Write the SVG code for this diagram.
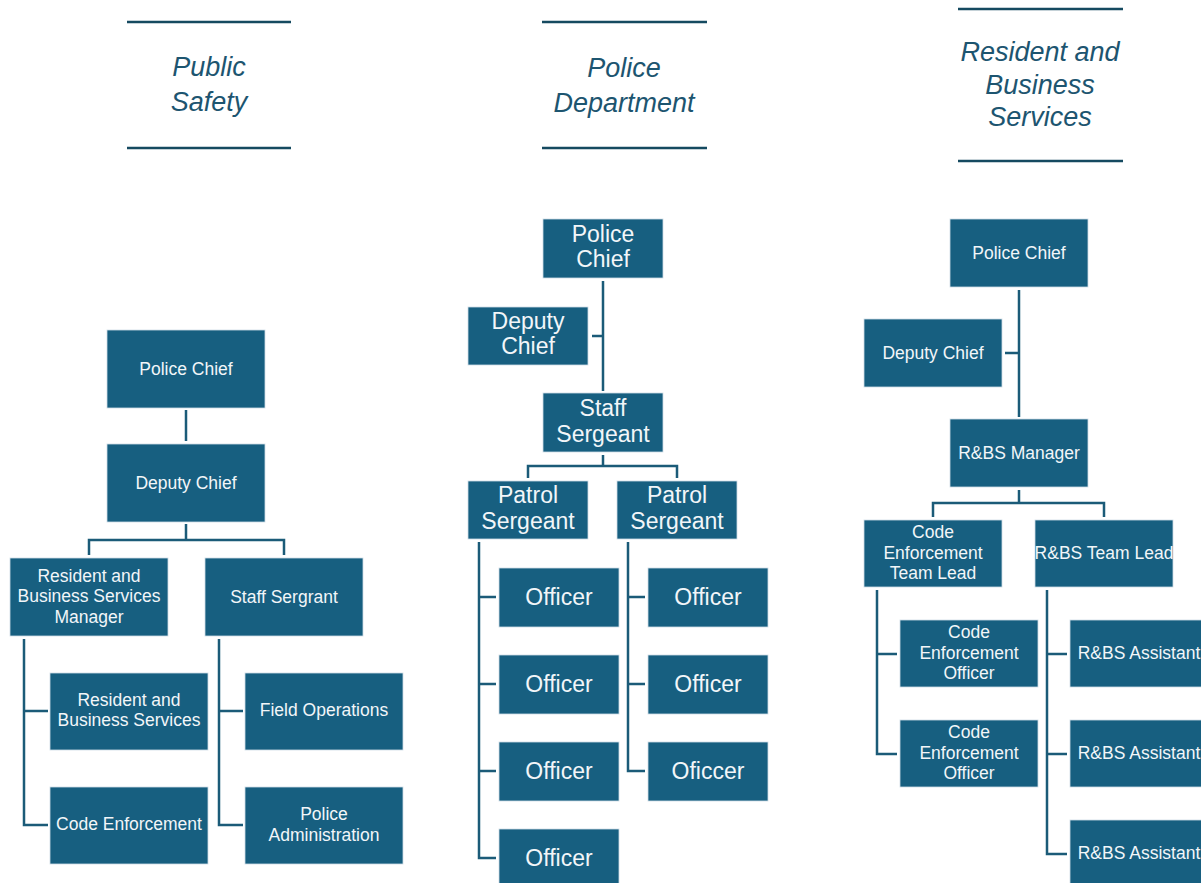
<svg xmlns="http://www.w3.org/2000/svg" width="1201" height="883" viewBox="0 0 1201 883">
<style>
.box{fill:#175f80;stroke:#cfdde6;stroke-width:0.8}
.t{font-family:"Liberation Sans",Arial,sans-serif;fill:#f2f6f9;text-anchor:middle}
.s{font-size:17.5px}
.b{font-size:23px}
.h{font-family:"Liberation Sans",Arial,sans-serif;font-style:italic;font-size:27px;fill:#1d5570;text-anchor:middle}
.hl{stroke:#154a60;stroke-width:2.5;fill:none}
.c{stroke:#1b5b78;stroke-width:2.5;fill:none}
</style>
<rect width="1201" height="883" fill="#ffffff"/>
<g id="header-public-safety">
<line class="hl" x1="127" y1="22" x2="291" y2="22"/>
<line class="hl" x1="127" y1="148" x2="291" y2="148"/>
<text class="h" x="209" y="76">Public</text>
<text class="h" x="209" y="111">Safety</text>
</g>
<g id="header-police-department">
<line class="hl" x1="542" y1="22" x2="707" y2="22"/>
<line class="hl" x1="542" y1="148" x2="707" y2="148"/>
<text class="h" x="624" y="77">Police</text>
<text class="h" x="624" y="112">Department</text>
</g>
<g id="header-rbs">
<line class="hl" x1="958" y1="9" x2="1123" y2="9"/>
<line class="hl" x1="958" y1="161" x2="1123" y2="161"/>
<text class="h" x="1040" y="61">Resident and</text>
<text class="h" x="1040" y="94">Business</text>
<text class="h" x="1040" y="126">Services</text>
</g>
<g id="connectors">
<path class="c" d="M186 410V441"/>
<path class="c" d="M186 524V540M89 555V540H284V555"/>
<path class="c" d="M24 639V825H48M24 711H48"/>
<path class="c" d="M219 639V825H243M219 711H243"/>
<path class="c" d="M603 281V391M592 336H603"/>
<path class="c" d="M603 455V466M528 478V466H677V478"/>
<path class="c" d="M479 542V858H496M479 597H496M479 684H496M479 771H496"/>
<path class="c" d="M628 542V771H645M628 597H645M628 684H645"/>
<path class="c" d="M1019 290V417M1005 353H1019"/>
<path class="c" d="M1019 490V503M933 517V503H1104V517"/>
<path class="c" d="M877 590V754H897M877 654H897"/>
<path class="c" d="M1047 590V854H1067M1047 654H1067M1047 754H1067"/>
</g>
<g id="ps-police-chief"><rect class="box" x="107" y="330" width="158" height="78"/><text class="t s" x="186" y="375">Police Chief</text></g>
<g id="ps-deputy-chief"><rect class="box" x="107" y="444" width="158" height="78"/><text class="t s" x="186" y="489">Deputy Chief</text></g>
<g id="ps-rbs-manager"><rect class="box" x="10" y="558" width="158" height="78"/><text class="t s" x="89" y="582">Resident and</text><text class="t s" x="89" y="602">Business Services</text><text class="t s" x="89" y="623">Manager</text></g>
<g id="ps-staff-sergrant"><rect class="box" x="205" y="558" width="158" height="78"/><text class="t s" x="284" y="603">Staff Sergrant</text></g>
<g id="ps-rbs"><rect class="box" x="50" y="673" width="158" height="77"/><text class="t s" x="129" y="706">Resident and</text><text class="t s" x="129" y="726">Business Services</text></g>
<g id="ps-code-enforcement"><rect class="box" x="50" y="787" width="158" height="77"/><text class="t s" x="129" y="830">Code Enforcement</text></g>
<g id="ps-field-operations"><rect class="box" x="245" y="673" width="158" height="77"/><text class="t s" x="324" y="716">Field Operations</text></g>
<g id="ps-police-admin"><rect class="box" x="245" y="787" width="158" height="77"/><text class="t s" x="324" y="820">Police</text><text class="t s" x="324" y="841">Administration</text></g>

<g id="pd-police-chief"><rect class="box" x="543" y="219" width="120" height="59"/><text class="t b" x="603" y="242">Police</text><text class="t b" x="603" y="267">Chief</text></g>
<g id="pd-deputy-chief"><rect class="box" x="468" y="307" width="120" height="58"/><text class="t b" x="528" y="329">Deputy</text><text class="t b" x="528" y="354">Chief</text></g>
<g id="pd-staff-sergeant"><rect class="box" x="543" y="393" width="120" height="59"/><text class="t b" x="603" y="416">Staff</text><text class="t b" x="603" y="442">Sergeant</text></g>
<g id="pd-patrol-1"><rect class="box" x="468" y="481" width="120" height="58"/><text class="t b" x="528" y="503">Patrol</text><text class="t b" x="528" y="529">Sergeant</text></g>
<g id="pd-patrol-2"><rect class="box" x="617" y="481" width="120" height="58"/><text class="t b" x="677" y="503">Patrol</text><text class="t b" x="677" y="529">Sergeant</text></g>
<g id="pd-officer-1"><rect class="box" x="499" y="568" width="120" height="59"/><text class="t b" x="559" y="605">Officer</text></g>
<g id="pd-officer-2"><rect class="box" x="499" y="655" width="120" height="59"/><text class="t b" x="559" y="692">Officer</text></g>
<g id="pd-officer-3"><rect class="box" x="499" y="742" width="120" height="59"/><text class="t b" x="559" y="779">Officer</text></g>
<g id="pd-officer-4"><rect class="box" x="499" y="829" width="120" height="59"/><text class="t b" x="559" y="866">Officer</text></g>
<g id="pd-officer-5"><rect class="box" x="648" y="568" width="120" height="59"/><text class="t b" x="708" y="605">Officer</text></g>
<g id="pd-officer-6"><rect class="box" x="648" y="655" width="120" height="59"/><text class="t b" x="708" y="692">Officer</text></g>
<g id="pd-officer-7"><rect class="box" x="648" y="742" width="120" height="59"/><text class="t b" x="708" y="779">Oficcer</text></g>

<g id="rbs-police-chief"><rect class="box" x="950" y="219" width="138" height="68"/><text class="t s" x="1019" y="259">Police Chief</text></g>
<g id="rbs-deputy-chief"><rect class="box" x="864" y="319" width="138" height="68"/><text class="t s" x="933" y="359">Deputy Chief</text></g>
<g id="rbs-manager"><rect class="box" x="950" y="419" width="138" height="68"/><text class="t s" x="1019" y="459">R&amp;BS Manager</text></g>
<g id="rbs-ce-team-lead"><rect class="box" x="864" y="520" width="138" height="67"/><text class="t s" x="933" y="538">Code</text><text class="t s" x="933" y="559">Enforcement</text><text class="t s" x="933" y="579">Team Lead</text></g>
<g id="rbs-team-lead"><rect class="box" x="1035" y="520" width="138" height="67"/><text class="t s" x="1104" y="559">R&amp;BS Team Lead</text></g>
<g id="rbs-ce-officer-1"><rect class="box" x="900" y="620" width="138" height="67"/><text class="t s" x="969" y="638">Code</text><text class="t s" x="969" y="659">Enforcement</text><text class="t s" x="969" y="679">Officer</text></g>
<g id="rbs-ce-officer-2"><rect class="box" x="900" y="720" width="138" height="67"/><text class="t s" x="969" y="738">Code</text><text class="t s" x="969" y="759">Enforcement</text><text class="t s" x="969" y="779">Officer</text></g>
<g id="rbs-assistant-1"><rect class="box" x="1070" y="620" width="138" height="67"/><text class="t s" x="1139" y="659">R&amp;BS Assistant</text></g>
<g id="rbs-assistant-2"><rect class="box" x="1070" y="720" width="138" height="67"/><text class="t s" x="1139" y="759">R&amp;BS Assistant</text></g>
<g id="rbs-assistant-3"><rect class="box" x="1070" y="820" width="138" height="67"/><text class="t s" x="1139" y="859">R&amp;BS Assistant</text></g>
</svg>
